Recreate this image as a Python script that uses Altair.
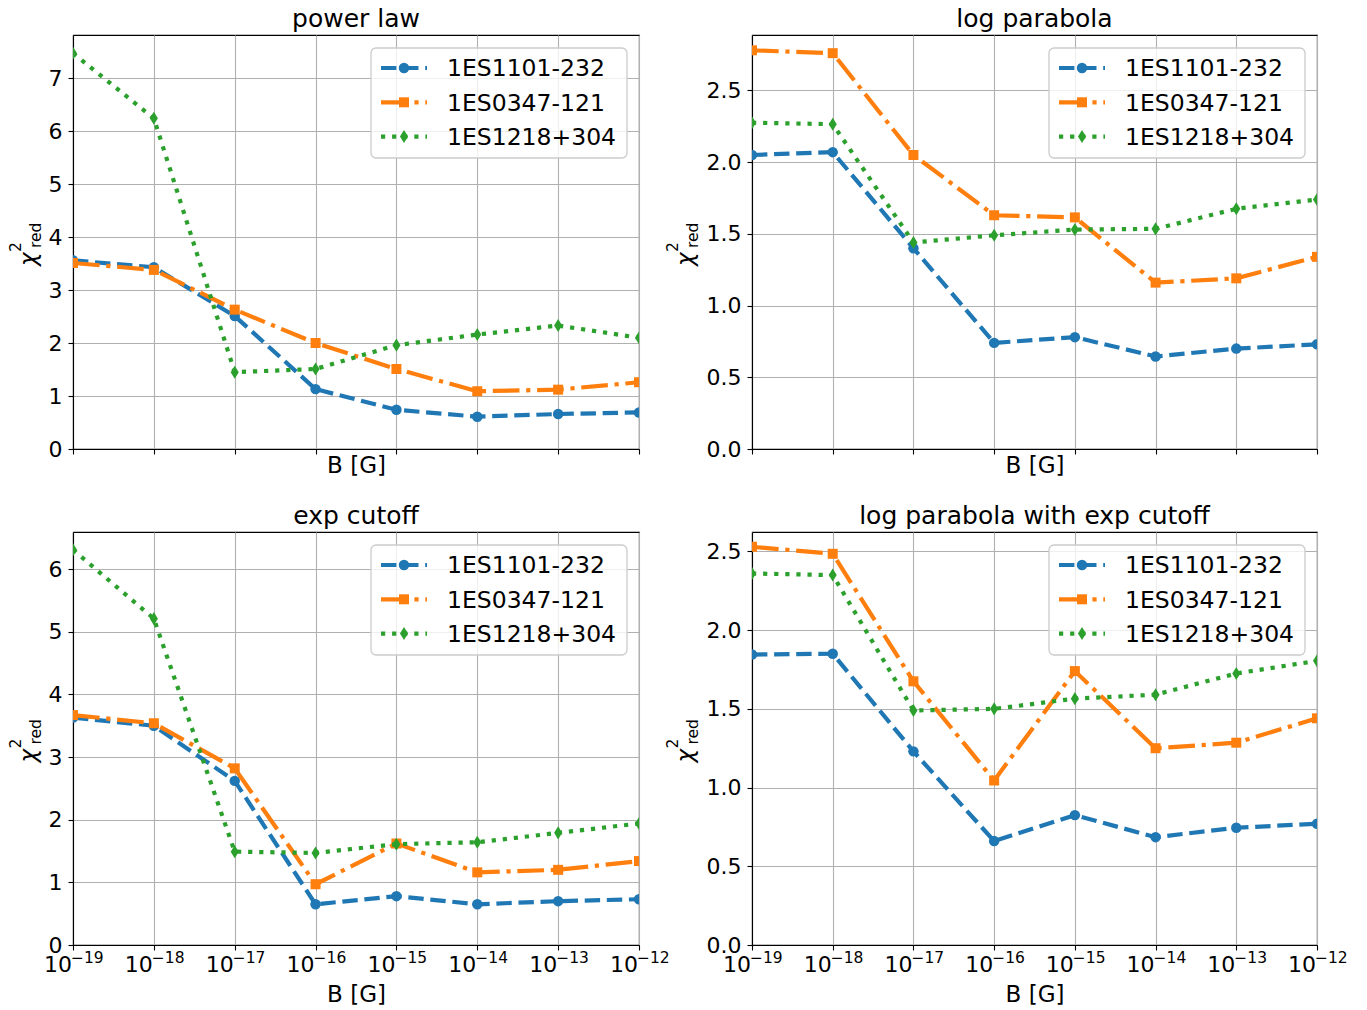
import altair as alt
import pandas as pd

# ---------------- data ----------------
B_values = [1e-19, 1e-18, 1e-17, 1e-16, 1e-15, 1e-14, 1e-13, 1e-12]
tick_exponents = ["\u221219", "\u221218", "\u221217", "\u221216", "\u221215", "\u221214", "\u221213", "\u221212"]
sources = ["1ES1101-232", "1ES0347-121", "1ES1218+304"]
panel_titles = ["power law", "log parabola", "exp cutoff", "log parabola with exp cutoff"]

power_law_1101 = [3.56, 3.43, 2.51, 1.13, 0.74, 0.61, 0.66, 0.69]
power_law_0347 = [3.51, 3.38, 2.63, 2.00, 1.51, 1.09, 1.12, 1.26]
power_law_1218 = [7.47, 6.24, 1.45, 1.51, 1.96, 2.16, 2.33, 2.10]

log_parabola_1101 = [2.05, 2.07, 1.40, 0.74, 0.78, 0.645, 0.70, 0.73]
log_parabola_0347 = [2.78, 2.76, 2.05, 1.63, 1.615, 1.16, 1.19, 1.34]
log_parabola_1218 = [2.275, 2.265, 1.44, 1.49, 1.53, 1.535, 1.675, 1.74]

exp_cutoff_1101 = [3.63, 3.50, 2.62, 0.65, 0.78, 0.65, 0.70, 0.73]
exp_cutoff_0347 = [3.67, 3.54, 2.82, 0.97, 1.62, 1.16, 1.20, 1.34]
exp_cutoff_1218 = [6.31, 5.21, 1.49, 1.47, 1.61, 1.64, 1.79, 1.94]

lp_exp_cutoff_1101 = [1.845, 1.85, 1.23, 0.66, 0.825, 0.685, 0.745, 0.77]
lp_exp_cutoff_0347 = [2.53, 2.485, 1.675, 1.045, 1.74, 1.25, 1.285, 1.44]
lp_exp_cutoff_1218 = [2.36, 2.35, 1.49, 1.50, 1.565, 1.59, 1.725, 1.805]

yticks_pl = [0, 1, 2, 3, 4, 5, 6, 7]
yticks_lp = [0.0, 0.5, 1.0, 1.5, 2.0, 2.5]
yticks_ec = [0, 1, 2, 3, 4, 5, 6]

# ---------------- styles ----------------
FONT = "DejaVu Sans"
colors = ["#1f77b4", "#ff7f0e", "#2ca02c"]
dashes = [[15.4, 6.7], [26.7, 6.7, 4.2, 6.7], [4.2, 6.9]]
shapes = ["circle", "square", "M0,-1L0.62,0L0,1L-0.62,0Z"]
sizes = [110, 100, 170]
LW = 4.2


def make_panel(title, series, yticks, yfmt, W, H, bottom, right):
    allv = [v for s in series for v in s]
    ymax = max(allv) + 0.05 * (max(allv) - min(allv))
    xscale = alt.Scale(type="log", domain=[B_values[0], B_values[-1]], nice=False)
    yscale = alt.Scale(domain=[0, ymax], nice=False, zero=False)
    x_axis = alt.Axis(values=B_values, labels=False, title="B [G]",
                      titlePadding=33 if bottom else 0)
    y_axis = alt.Axis(values=yticks, format=yfmt, title="", labelPadding=6)

    layers = []
    for name, vals, color, dash, shape, size in zip(sources, series, colors, dashes, shapes, sizes):
        df = pd.DataFrame({"B": B_values, "chi": vals, "src": name})
        base = alt.Chart(df).encode(
            x=alt.X("B:Q", scale=xscale, axis=x_axis),
            y=alt.Y("chi:Q", scale=yscale, axis=y_axis),
        )
        layers.append(base.mark_line(color=color, strokeDash=dash, strokeWidth=LW, clip=True))
        layers.append(base.mark_point(shape=shape, size=size, filled=True, color=color,
                                      opacity=1, clip=True))

    # x tick labels of the form 10^-n
    if bottom:
        tdf = pd.DataFrame({"B": B_values, "exp": tick_exponents})
        tb = alt.Chart(tdf).encode(x=alt.X("B:Q", scale=xscale, axis=x_axis))
        layers.append(tb.mark_text(text="10", align="right", baseline="alphabetic", dx=-1,
                                   font=FONT, fontSize=22, color="black")
                      .encode(y=alt.value(H + 27)))
        layers.append(tb.mark_text(align="left", baseline="alphabetic", dx=-2,
                                   font=FONT, fontSize=15.5, color="black")
                      .encode(y=alt.value(H + 18), text=alt.Text("exp:N")))

    one = pd.DataFrame({"t": [title]})

    # panel title
    layers.append(alt.Chart(one).mark_text(align="center", baseline="alphabetic", font=FONT,
                                           fontSize=25, color="black")
                  .encode(x=alt.value(W / 2), y=alt.value(-8.5), text=alt.Text("t:N")))

    # y axis title chi^2_red
    shift = -21.5 if right else 0.0
    layers.append(alt.Chart(one).mark_text(text="\u03c7", angle=270, align="left",
                                           baseline="alphabetic", font=FONT, fontSize=23,
                                           fontStyle="italic", color="black")
                  .encode(x=alt.value(-37.5 + shift), y=alt.value(H / 2 + 24)))
    layers.append(alt.Chart(one).mark_text(text="2", angle=270, align="left",
                                           baseline="alphabetic", font=FONT, fontSize=15.5,
                                           color="black")
                  .encode(x=alt.value(-52.3 + shift), y=alt.value(H / 2 + 10)))
    layers.append(alt.Chart(one).mark_text(text="red", angle=270, align="left",
                                           baseline="alphabetic", font=FONT, fontSize=15.5,
                                           color="black")
                  .encode(x=alt.value(-32.5 + shift), y=alt.value(H / 2 + 6)))

    # legend
    lx0 = W - 12 - 256
    layers.append(alt.Chart(one).mark_rect(fill="white", fillOpacity=0.8, stroke="#cccccc",
                                           strokeWidth=1.3, cornerRadius=5)
                  .encode(x=alt.value(lx0), x2=alt.value(W - 12),
                          y=alt.value(13), y2=alt.value(123)))
    for i, (name, color, dash, shape, size) in enumerate(zip(sources, colors, dashes, shapes, sizes)):
        yc = 33 + 34.3 * i
        ldf = pd.DataFrame({"src": [name]})
        layers.append(alt.Chart(ldf).mark_rule(color=color, strokeDash=dash, strokeWidth=LW)
                      .encode(x=alt.value(lx0 + 10), x2=alt.value(lx0 + 56), y=alt.value(yc)))
        layers.append(alt.Chart(ldf).mark_point(shape=shape, size=size, filled=True,
                                                color=color, opacity=1)
                      .encode(x=alt.value(lx0 + 33), y=alt.value(yc)))
        layers.append(alt.Chart(ldf).mark_text(align="left", baseline="alphabetic", font=FONT,
                                               fontSize=23.5, color="black")
                      .encode(x=alt.value(lx0 + 76), y=alt.value(yc + 8.3), text=alt.Text("src:N")))

    return alt.layer(*layers).properties(width=W, height=H)


p1 = make_panel(panel_titles[0], [power_law_1101, power_law_0347, power_law_1218],
                yticks_pl, "d", 566, 414, False, False)
p2 = make_panel(panel_titles[1], [log_parabola_1101, log_parabola_0347, log_parabola_1218],
                yticks_lp, ".1f", 565, 414, False, True)
p3 = make_panel(panel_titles[2], [exp_cutoff_1101, exp_cutoff_0347, exp_cutoff_1218],
                yticks_ec, "d", 566, 413, True, False)
p4 = make_panel(panel_titles[3], [lp_exp_cutoff_1101, lp_exp_cutoff_0347, lp_exp_cutoff_1218],
                yticks_lp, ".1f", 565, 413, True, True)

chart = alt.concat(p1, p2, p3, p4, columns=2, spacing={"row": 83, "column": 113},
                   bounds="flush").properties(
    padding={"left": 0, "top": -3, "right": 0, "bottom": 0},
    background="white",
).configure_view(
    stroke="black", strokeWidth=1.1
).configure_axis(
    labelFont=FONT, labelFontSize=22, labelColor="black",
    tickColor="black", tickWidth=1.1, tickSize=5,
    domainColor="black", domainWidth=1.1,
    gridColor="#b0b0b0", gridWidth=1.1,
    titleFont=FONT, titleFontSize=23, titleFontWeight="normal", titleColor="black",
)

chart.save("out.html", embed_options={"renderer": "svg", "actions": False})
